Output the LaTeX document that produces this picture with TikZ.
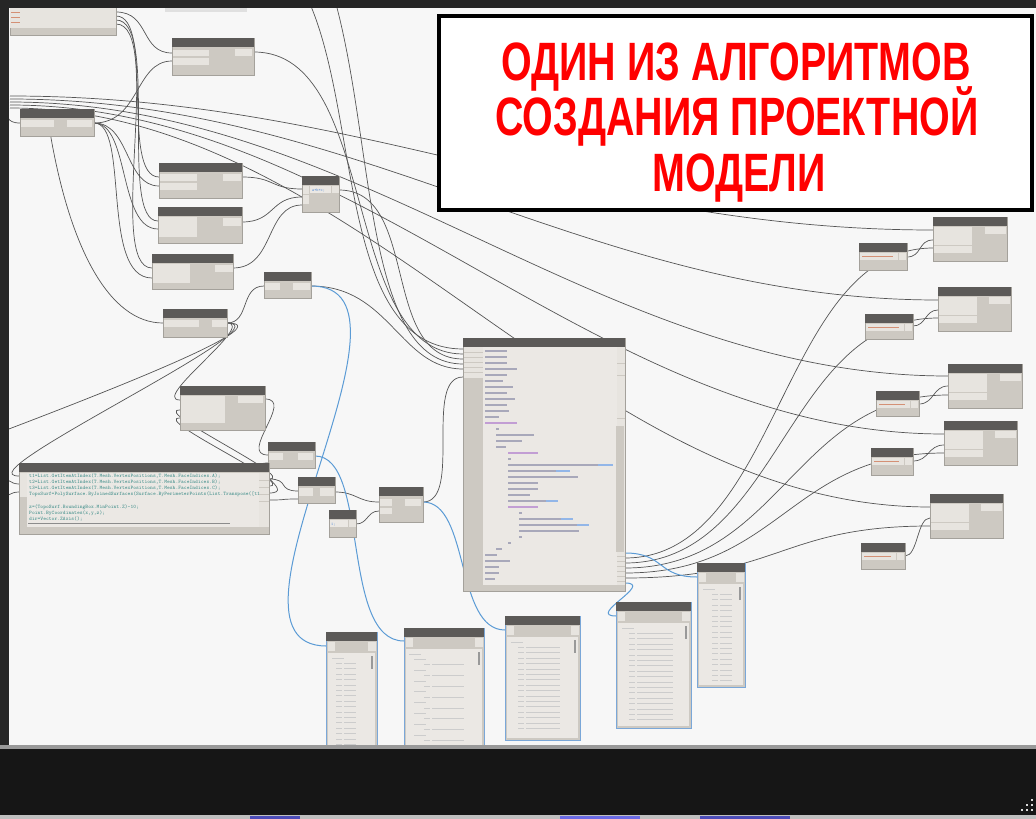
\documentclass[tikz,border=0pt]{standalone}
\usepackage{fontspec}
\newfontfamily\titlefont[FakeStretch=0.73]{Liberation Sans}
\usetikzlibrary{fit,calc}
\definecolor{canvas}{HTML}{F7F7F7}
\definecolor{nbody}{HTML}{CDC9C2}
\definecolor{nhead}{HTML}{5C5A58}
\definecolor{nport}{HTML}{E7E4DF}
\definecolor{ncode}{HTML}{EBE8E4}
\definecolor{wiregray}{HTML}{555555}
\definecolor{wireblue}{HTML}{5B9BD5}
\definecolor{watchedge}{HTML}{7AA7D8}
\definecolor{codeteal}{HTML}{3C8C88}
\definecolor{codedark}{HTML}{6E6E8C}
\definecolor{codepurple}{HTML}{9A5DB8}
\definecolor{codeblue}{HTML}{4A86D8}
\definecolor{strred}{HTML}{C2603A}
\definecolor{titlered}{HTML}{FF0000}
\definecolor{framedark}{HTML}{262626}
\definecolor{banddark}{HTML}{161616}
\tikzset{
 wire/.style={draw=wiregray, line width=0.7pt},
 bwire/.style={draw=wireblue, line width=1pt},
 dbody/.style={draw=nbody!80!black, line width=0.4pt, fill=nbody, inner sep=0pt, outer sep=0pt},
 dhead/.style={fill=nhead},
 dport/.style={fill=nport},
 lline/.style={line width=1pt, draw=black!20},
 strline/.style={line width=1pt, draw=strred!70},
}
% Dynamo node: name, x1, y1, x2, y2
\newcommand\dnode[5]{%
 \node[dbody, fit={(#2,#3) (#4,#5)}] (#1) {};
 \fill[dhead] (#2,#3) rectangle (#4,#3+9);}
% watch node
\newcommand\wnode[5]{%
 \node[dbody, draw=watchedge, line width=1pt, fit={(#2,#3) (#4,#5)}] (#1) {};
 \fill[dhead] (#2,#3) rectangle (#4,#3+9);
 \fill[nport] (#2+1.5,#3+10) rectangle (#2+9,#3+19);
 \fill[nport] (#4-9,#3+10) rectangle (#4-1.5,#3+19);
 \fill[ncode] (#2+2,#3+21) rectangle (#4-2,#5-2);
 \fill[black!40] (#4-6,#3+24) rectangle (#4-4.5,#3+37);}
% flat list: x of bracket, first y, count, value length
\newcommand\wlist[4]{%
 \foreach \k in {1,...,#3}{%
  \draw[lline] (#1,#2+\k*5.4) -- ++(6,0);
  \draw[lline] (#1+8,#2+\k*5.4) -- ++(#4,0);}}
% nested list
\newcommand\wnest[4]{%
 \foreach \k in {1,...,#3}{%
  \draw[lline] (#1,#2+\k*10.8-5.4) -- ++(12,0);
  \draw[lline] (#1+10,#2+\k*10.8) -- ++(6,0);
  \draw[lline] (#1+18,#2+\k*10.8) -- ++(#4,0);}}
% right-side result node
\newcommand\rnode[5]{%
 \dnode{#1}{#2}{#3}{#4}{#5}
 \fill[dport] (#2+0.5,#3+10) rectangle (#2+39,#3+28);
 \fill[dport] (#2+0.5,#3+29) rectangle (#2+39,#3+36);
 \fill[dport] (#4-22,#3+10) rectangle (#4-1,#3+17);}
% string node
\newcommand\snode[5]{%
 \dnode{#1}{#2}{#3}{#4}{#5}
 \fill[dport] (#2+1,#3+10) rectangle (#4-9,#3+17);
 \fill[dport] (#4-8,#3+10) rectangle (#4-1,#3+17);
 \draw[strline] (#2+3,#3+13.5) -- (#4-14,#3+13.5);}
\begin{document}
\begin{tikzpicture}[x=1pt,y=-1pt]
\useasboundingbox (0,0) rectangle (1036,819);
\fill[canvas] (0,0) rectangle (1036,819);

% ---------- port coordinates ----------
\coordinate (A-o1) at (116,12); \coordinate (A-o2) at (116,16);
\coordinate (A-o3) at (116,20); \coordinate (A-o4) at (116,24);
\coordinate (B-i1) at (172,53); \coordinate (B-i2) at (172,61); \coordinate (B-o) at (254,52);
\coordinate (C-i) at (20,123); \coordinate (C-o) at (94,123);
\coordinate (D-i1) at (159,177); \coordinate (D-i2) at (159,186); \coordinate (D-o) at (242,177);
\coordinate (E-i1) at (158,221); \coordinate (E-i2) at (158,229); \coordinate (E-o) at (242,222);
\coordinate (F-i1) at (302,189); \coordinate (F-i2) at (302,197); \coordinate (F-i3) at (302,205); \coordinate (F-o) at (339,190);
\coordinate (G-i1) at (152,268); \coordinate (G-i2) at (152,278); \coordinate (G-o) at (233,268);
\coordinate (H-i) at (264,286); \coordinate (H-o) at (311,286);
\coordinate (I-i) at (163,323); \coordinate (I-o) at (227,323);
\coordinate (J-i1) at (180,400); \coordinate (J-i2) at (180,410); \coordinate (J-i3) at (180,418); \coordinate (J-o) at (265,399);
\coordinate (K-i1) at (268,455); \coordinate (K-i2) at (268,463); \coordinate (K-o) at (315,456);
\coordinate (L-i1) at (19,476); \coordinate (L-i2) at (19,484); \coordinate (L-i3) at (19,492);
\coordinate (L-o1) at (269,479); \coordinate (L-o2) at (269,486); \coordinate (L-o3) at (269,493); \coordinate (L-o4) at (269,500);
\coordinate (M-i1) at (298,491); \coordinate (M-i2) at (298,499); \coordinate (M-o) at (335,492);
\coordinate (N-o) at (356,524);
\coordinate (O-i1) at (379,502); \coordinate (O-i2) at (379,511); \coordinate (O-o) at (423,502);
\coordinate (P-i1) at (463,349); \coordinate (P-i2) at (463,354); \coordinate (P-i3) at (463,359);
\coordinate (P-i4) at (463,364); \coordinate (P-i5) at (463,369); \coordinate (P-i6) at (463,377);
\coordinate (P-o6) at (625,553); \coordinate (P-o1) at (625,558); \coordinate (P-o2) at (625,563);
\coordinate (P-o3) at (625,568); \coordinate (P-o4) at (625,573); \coordinate (P-o5) at (625,578);
\coordinate (P-o7) at (625,583);
\coordinate (R1-i1) at (933,230); \coordinate (R1-i2) at (933,240); \coordinate (R1-i3) at (933,248);
\coordinate (R2-i1) at (938,300); \coordinate (R2-i2) at (938,310); \coordinate (R2-i3) at (938,318);
\coordinate (R3-i1) at (948,376); \coordinate (R3-i2) at (948,386); \coordinate (R3-i3) at (948,395);
\coordinate (R4-i1) at (944,434); \coordinate (R4-i2) at (944,445); \coordinate (R4-i3) at (944,453);
\coordinate (R5-i1) at (930,507); \coordinate (R5-i2) at (930,518); \coordinate (R5-i3) at (930,526);
\coordinate (S1-o) at (907,257); \coordinate (S2-o) at (913,326); \coordinate (S3-o) at (919,404);
\coordinate (S4-o) at (913,461); \coordinate (S5-o) at (905,556);
\coordinate (W1-i) at (326,646); \coordinate (W2-i) at (404,641); \coordinate (W3-i) at (505,630);
\coordinate (W4-i) at (616,616); \coordinate (W5-i) at (697,577);
% free ends outside the view
\coordinate (lf1) at (10,96); \coordinate (lf2) at (10,99); \coordinate (lf3) at (10,102);
\coordinate (lf4) at (10,105); \coordinate (lf5) at (10,108);
\coordinate (cin) at (2,114); \coordinate (cl) at (50,132);
\coordinate (tp1) at (310,4); \coordinate (tp2) at (336,4);
\coordinate (Loff) at (-60,455); \coordinate (li2) at (2,478); \coordinate (li3) at (2,497);

\begin{scope}
\clip (9,8) rectangle (1036,746);
% ---------- wires ----------
\draw[wire] (A-o1) .. controls (150,12) and (140,53) .. (B-i1);
\draw[wire] (A-o2) .. controls (155,16) and (120,177) .. (D-i1);
\draw[wire] (A-o3) .. controls (160,20) and (118,221) .. (E-i1);
\draw[wire] (A-o4) .. controls (165,24) and (105,268) .. (G-i1);
\draw[wire] (C-o) .. controls (140,123) and (135,61) .. (B-i2);
\draw[wire] (C-o) .. controls (130,123) and (125,186) .. (D-i2);
\draw[wire] (C-o) .. controls (130,123) and (118,229) .. (E-i2);
\draw[wire] (C-o) .. controls (130,123) and (100,278) .. (G-i2);
\draw[wire] (cin) .. controls (10,114) and (5,123) .. (C-i);
\draw[wire] (cl) .. controls (70,250) and (110,323) .. (I-i);
\draw[wire] (lf1) .. controls (360,96) and (583,230) .. (R1-i1);
\draw[wire] (lf2) .. controls (360,99) and (588,300) .. (R2-i1);
\draw[wire] (lf3) .. controls (360,102) and (598,376) .. (R3-i1);
\draw[wire] (lf4) .. controls (360,105) and (594,434) .. (R4-i1);
\draw[wire] (lf5) .. controls (360,108) and (580,507) .. (R5-i1);
\draw[wire] (D-o) .. controls (275,177) and (270,189) .. (F-i1);
\draw[wire] (E-o) .. controls (275,222) and (270,197) .. (F-i2);
\draw[wire] (G-o) .. controls (275,268) and (265,205) .. (F-i3);
\draw[wire] (F-o) .. controls (420,190) and (380,359) .. (P-i3);
\draw[wire] (B-o) .. controls (380,52) and (340,354) .. (P-i2);
\draw[wire] (tp1) .. controls (360,120) and (340,349) .. (P-i1);
\draw[wire] (tp2) .. controls (375,150) and (365,364) .. (P-i4);
\draw[wire] (H-o) .. controls (390,286) and (400,369) .. (P-i5);
\draw[wire] (O-o) .. controls (463,502) and (423,377) .. (P-i6);
\draw[wire] (I-o) .. controls (250,323) and (240,286) .. (H-i);
\draw[wire] (I-o) .. controls (290,323) and (-40,476) .. (L-i1);
\draw[wire] (I-o) .. controls (290,323) and (60,410) .. (Loff);
\draw[wire] (I-o) .. controls (257,323) and (150,400) .. (J-i1);
\draw[wire] (li2) .. controls (8,478) and (10,484) .. (L-i2);
\draw[wire] (li3) .. controls (8,497) and (10,492) .. (L-i3);
\draw[wire] (L-o1) .. controls (299,479) and (150,410) .. (J-i2);
\draw[wire] (L-o2) .. controls (299,486) and (150,418) .. (J-i3);
\draw[wire] (J-o) .. controls (295,399) and (238,455) .. (K-i1);
\draw[wire] (L-o3) .. controls (299,493) and (238,463) .. (K-i2);
\draw[wire] (L-o1) .. controls (290,479) and (277,491) .. (M-i1);
\draw[wire] (L-o4) .. controls (290,500) and (277,499) .. (M-i2);
\draw[wire] (M-o) .. controls (357,492) and (357,502) .. (O-i1);
\draw[wire] (N-o) .. controls (368,524) and (367,511) .. (O-i2);
\draw[wire] (P-o1) .. controls (780,558) and (780,248) .. (R1-i3);
\draw[wire] (P-o2) .. controls (780,563) and (785,318) .. (R2-i3);
\draw[wire] (P-o3) .. controls (780,568) and (795,395) .. (R3-i3);
\draw[wire] (P-o4) .. controls (780,573) and (790,453) .. (R4-i3);
\draw[wire] (P-o5) .. controls (780,578) and (780,526) .. (R5-i3);
\draw[wire] (S1-o) .. controls (922,257) and (918,240) .. (R1-i2);
\draw[wire] (S2-o) .. controls (926,326) and (925,310) .. (R2-i2);
\draw[wire] (S3-o) .. controls (934,404) and (933,386) .. (R3-i2);
\draw[wire] (S4-o) .. controls (929,461) and (928,445) .. (R4-i2);
\draw[wire] (S5-o) .. controls (918,556) and (917,518) .. (R5-i2);
\draw[bwire] (H-o) .. controls (440,286) and (200,645) .. (W1-i);
\draw[bwire] (K-o) .. controls (370,456) and (340,641) .. (W2-i);
\draw[bwire] (O-o) .. controls (470,502) and (455,630) .. (W3-i);
\draw[bwire] (P-o7) .. controls (655,583) and (586,616) .. (W4-i);
\draw[bwire] (P-o6) .. controls (665,553) and (657,577) .. (W5-i);

% ---------- nodes ----------
% A (partly out of view)
\node[dbody, fit={(10,6) (116,35)}] (A) {};
\fill[nport] (10,6) rectangle (116,28);
\foreach \yy in {12,17,22} \draw[strline] (11,\yy) -- ++(9,0);
% top partial node
\node[dbody, fill=black!12, draw=none, fit={(165,6) (247,12)}] (Ttop) {};
% B
\dnode{B}{172}{38}{254}{75}
\fill[dport] (172.5,50) rectangle (209,56); \fill[dport] (172.5,58) rectangle (209,65);
\fill[dport] (235,49) rectangle (252,56);
% C
\dnode{C}{20}{109}{94}{136}
\fill[dport] (20.5,120) rectangle (54,127); \fill[dport] (67,120) rectangle (92,127);
% D
\dnode{D}{159}{163}{242}{198}
\fill[dport] (159.5,174) rectangle (197,181); \fill[dport] (159.5,183) rectangle (197,190);
\fill[dport] (223,174) rectangle (241,181);
% E
\dnode{E}{158}{207}{242}{243}
\fill[dport] (158.5,217) rectangle (197,237); \fill[dport] (223,218) rectangle (241,226);
% F
\dnode{F}{302}{176}{339}{212}
\fill[dport] (302.5,186) rectangle (309,194); \fill[dport] (302.5,195) rectangle (309,204);
\fill[ncode] (310,186) rectangle (331,193); \fill[dport] (332,186) rectangle (338.5,193);
\node[anchor=base west, inner sep=0, text=codeblue, font=\fontsize{4}{4}\ttfamily] (Ftxt) at (312,191.5) {a+b+c;};
% G
\dnode{G}{152}{254}{233}{289}
\fill[dport] (152.5,264) rectangle (190,283); \fill[dport] (215,265) rectangle (232.5,272);
% H
\dnode{H}{264}{272}{311}{298}
\fill[dport] (264.5,283) rectangle (280,290); \fill[dport] (293,283) rectangle (310,290);
% I
\dnode{I}{163}{309}{227}{337}
\fill[dport] (163.5,320) rectangle (199,327); \fill[dport] (212,320) rectangle (226.5,327);
% J
\dnode{J}{180}{386}{265}{430}
\fill[dport] (180.5,396) rectangle (225,423); \fill[dport] (238,396) rectangle (263,403);
% K
\dnode{K}{268}{442}{315}{468}
\fill[dport] (268.5,453) rectangle (283,460); \fill[dport] (298,453) rectangle (313,460);
% L code block
\dnode{L}{19}{463}{269}{534}
\fill[nport] (19.5,473) rectangle (27,497);
\fill[ncode] (27,473) rectangle (259,527);
\fill[nport] (259,473) rectangle (268.5,527);
\foreach \yy in {480,487,494,501} \draw[nbody, line width=0.6pt] (259,\yy) -- (268.5,\yy);
\draw[black!45, line width=1.4pt] (28,523.5) -- (230,523.5);
\begin{scope}
\clip (27,470) rectangle (258,527);
\tikzset{ltxt/.style={anchor=base west, inner sep=0, text=codeteal, font=\fontsize{5.3}{6}\ttfamily}}
\node[ltxt] (L1) at (29,477) {t1=List.GetItemAtIndex(T.Mesh.VertexPositions,T.Mesh.FaceIndices.A);};
\node[ltxt] (L2) at (29,483) {t2=List.GetItemAtIndex(T.Mesh.VertexPositions,T.Mesh.FaceIndices.B);};
\node[ltxt] (L3) at (29,489) {t3=List.GetItemAtIndex(T.Mesh.VertexPositions,T.Mesh.FaceIndices.C);};
\node[ltxt] (L4) at (29,495.5) {TopoSurf=PolySurface.ByJoinedSurfaces(Surface.ByPerimeterPoints(List.Transpose([t1,};
\node[ltxt] (L5) at (29,508) {z=(TopoSurf.BoundingBox.MinPoint.Z)-10;};
\node[ltxt] (L6) at (29,514) {Point.ByCoordinates(x,y,z);};
\node[ltxt] (L7) at (29,520) {dir=Vector.ZAxis();};
\end{scope}
% M
\dnode{M}{298}{477}{335}{503}
\fill[dport] (298.5,488) rectangle (313,496); \fill[dport] (320,488) rectangle (334,496);
% N
\dnode{N}{329}{510}{356}{537}
\fill[ncode] (329.5,520) rectangle (348,527); \fill[dport] (349,520) rectangle (355.5,527);
\node[anchor=base west, inner sep=0, text=codeblue, font=\fontsize{4}{4}\ttfamily] (Ntxt) at (331,525.5) {1;};
% O
\dnode{O}{379}{487}{423}{522}
\fill[dport] (379.5,499) rectangle (392,506); \fill[dport] (379.5,508) rectangle (392,514);
\fill[dport] (405,499) rectangle (421,506);
% P big code block
\dnode{P}{463}{338}{625}{591}
\fill[nport] (463.5,347) rectangle (483,378);
\foreach \yy in {352,357,362,367,372} \draw[nbody, line width=0.5pt] (463.5,\yy) -- (483,\yy);
\fill[ncode] (483,347) rectangle (617,585);
\fill[nport] (617,347) rectangle (624.5,585);
\fill[nbody] (616,426) rectangle (624,552);
\foreach \yy in {363,375,418,556,561,566,571,576,581} \draw[nbody, line width=0.5pt] (617,\yy) -- (624.5,\yy);
\foreach \xs/\len/\c [count=\i] in {485/22/codedark, 485/22/codedark, 485/22/codedark, 485/32/codedark,
  485/22/codedark, 485/18/codedark, 485/28/codedark, 485/22/codedark, 485/30/codedark, 485/22/codedark,
  485/24/codedark, 485/14/codedark, 485/32/codepurple, 496/3/codedark, 496/38/codedark, 496/26/codedark,
  496/10/codedark, 508/30/codepurple, 508/3/codedark, 508/90/codedark, 508/48/codedark, 508/70/codedark,
  508/30/codedark, 508/30/codedark, 508/22/codedark, 508/38/codedark, 508/30/codepurple, 519/3/codedark,
  519/42/codedark, 519/58/codedark, 519/60/codedark, 519/3/codedark, 508/3/codedark, 496/6/codedark,
  485/12/codedark, 485/25/codedark, 485/14/codedark, 485/14/codedark, 485/10/codedark}
  \draw[line width=1.2pt, draw=\c!60] (\xs,345+\i*6) -- ++(\len,0);
\draw[line width=1.2pt, draw=codeblue!60] (598,465) -- ++(15,0);
\draw[line width=1.2pt, draw=codeblue!60] (556,471) -- ++(14,0);
\draw[line width=1.2pt, draw=codeblue!60] (546,501) -- ++(12,0);
\draw[line width=1.2pt, draw=codeblue!60] (561,519) -- ++(12,0);
\draw[line width=1.2pt, draw=codeblue!60] (577,525) -- ++(12,0);
% right-hand nodes
\rnode{R1}{933}{217}{1007}{261}
\rnode{R2}{938}{287}{1011}{331}
\rnode{R3}{948}{364}{1022}{408}
\rnode{R4}{944}{421}{1017}{465}
\rnode{R5}{930}{494}{1003}{538}
\snode{S1}{859}{243}{907}{270}
\snode{S2}{865}{314}{913}{339}
\snode{S3}{876}{391}{919}{416}
\snode{S4}{871}{448}{913}{475}
\snode{S5}{861}{543}{905}{569}
% watch nodes
\wnode{W1}{326}{632}{377}{752}
\draw[lline] (332,658) -- ++(12,0);
\wlist{336}{658}{16}{12}
\wnode{W2}{404}{628}{484}{752}
\draw[lline] (409,654) -- ++(12,0);
\wnest{414}{654}{9}{32}
\wnode{W3}{505}{616}{580}{740}
\draw[lline] (511,642) -- ++(12,0);
\wlist{518}{642}{16}{34}
\wnode{W4}{616}{602}{691}{728}
\draw[lline] (622,628) -- ++(12,0);
\wlist{629}{628}{17}{36}
\wnode{W5}{697}{563}{745}{687}
\draw[lline] (703,589) -- ++(12,0);
\wlist{712}{589}{17}{12}
\end{scope}

% ---------- window frame ----------
\fill[framedark] (0,0) rectangle (1036,8);
\fill[framedark] (0,0) rectangle (9,749);
\fill[black!40] (0,745) rectangle (1036,749);
\fill[banddark] (0,749) rectangle (1036,815);
\fill[black!25] (0,815) rectangle (1036,819);
\fill[blue!70!black, opacity=0.6] (250,815.5) rectangle (300,819);
\fill[blue!80, opacity=0.6] (560,815.5) rectangle (640,819);
\fill[blue!70!black, opacity=0.6] (700,815.5) rectangle (790,819);
\foreach \gx/\gy in {1032/800, 1032/805, 1027/805, 1032/810, 1027/810, 1022/810}
  \fill[white!85!black] (\gx-1.3,\gy-1.3) rectangle (\gx+1.3,\gy+1.3);

% ---------- title ----------
\node[draw=black, line width=4pt, fill=white, inner sep=0, fit={(439,16) (1032,210)}] (titlebox) {};
\tikzset{ttl/.style={anchor=base, inner sep=0, text=titlered, font=\titlefont\bfseries\fontsize{54}{60}\selectfont}}
\node[ttl] (t1) at (736,80) {ОДИН ИЗ АЛГОРИТМОВ};
\node[ttl] (t2) at (737,135) {СОЗДАНИЯ ПРОЕКТНОЙ};
\node[ttl] (t3) at (739,191) {МОДЕЛИ};
\end{tikzpicture}
\end{document}
